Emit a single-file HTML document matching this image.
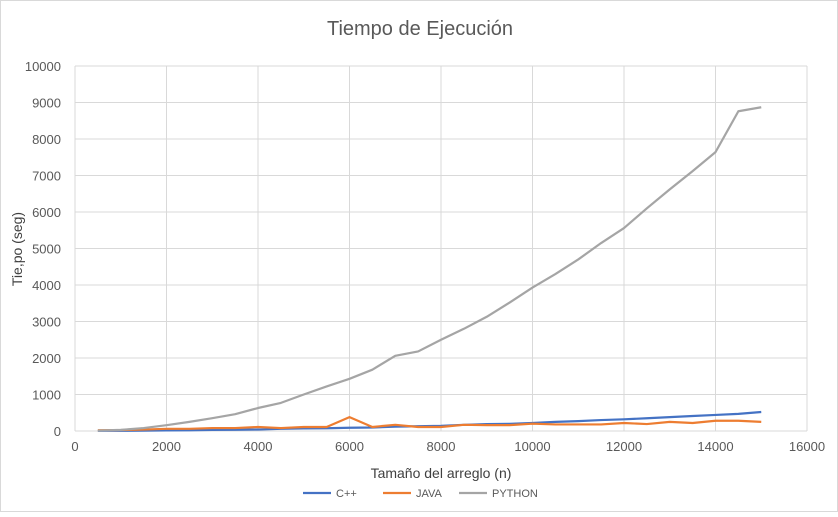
<!DOCTYPE html>
<html><head><meta charset="utf-8"><style>
body{margin:0;background:#fff;font-family:"Liberation Sans",sans-serif}
svg text{font-family:"Liberation Sans",sans-serif}
</style></head><body>
<svg id="c" width="838" height="512">
<rect x="0.5" y="0.5" width="837" height="511" fill="#fff" stroke="#d9d9d9"/>
<text x="420" y="35" text-anchor="middle" font-size="20" fill="#595959">Tiempo de Ejecución</text>
<g id="grid"></g><g id="ticks"></g><g id="series"></g>
<text x="441" y="478" text-anchor="middle" font-size="14" fill="#404040">Tamaño del arreglo (n)</text>
<text transform="translate(22,249) rotate(-90)" text-anchor="middle" font-size="14" fill="#404040">Tie,po (seg)</text>
<g id="legend"></g>
</svg>
<script>
const xs=[500,1000,1500,2000,2500,3000,3500,4000,4500,5000,5500,6000,6500,7000,7500,8000,8500,9000,9500,10000,10500,11000,11500,12000,12500,13000,13500,14000,14500,15000];
const cpp=[5,5,10,15,20,30,35,40,60,70,75,90,95,120,130,140,170,190,195,220,250,270,300,320,350,380,410,440,470,520];
const java=[20,25,40,60,60,80,80,110,80,110,110,380,110,170,110,110,170,160,160,200,180,180,180,220,190,250,220,280,280,250];
const python=[10,30,80,160,250,350,460,630,770,1000,1220,1430,1680,2060,2180,2500,2800,3130,3520,3930,4300,4700,5150,5560,6100,6620,7120,7640,8760,8870];
const xTicks=[0,2000,4000,6000,8000,10000,12000,14000,16000];
const yTicks=[0,1000,2000,3000,4000,5000,6000,7000,8000,9000,10000];
const names=["C++","JAVA","PYTHON"];
const colors=["#4472c4","#ed7d31","#a5a5a5"];
const L=75,R=807,T=66,B=431;
const X=v=>L+(v/16000)*(R-L), Y=v=>B-(v/10000)*(B-T);
const NS="http://www.w3.org/2000/svg";
function mk(t,a,p){const e=document.createElementNS(NS,t);for(const k in a)e.setAttribute(k,a[k]);p.appendChild(e);return e;}
const g=document.getElementById('grid'),tk=document.getElementById('ticks'),sg=document.getElementById('series'),lg=document.getElementById('legend');
yTicks.forEach(v=>{const l=mk('line',{x1:L,x2:R,y1:Y(v),y2:Y(v),stroke:'#d9d9d9'},g);


const t=mk('text',{x:L-14,y:Y(v)+5,'text-anchor':'end','font-size':13,fill:'#595959'},tk);t.textContent=v;

});
xTicks.forEach(v=>{const l=mk('line',{x1:X(v),x2:X(v),y1:T,y2:B,stroke:'#d9d9d9'},g);


const t=mk('text',{x:X(v),y:B+20,'text-anchor':'middle','font-size':13,fill:'#595959'},tk);t.textContent=v;

});
[cpp,java,python].forEach((s,i)=>{const p=mk('polyline',{points:s.map((v,j)=>X(xs[j])+','+Y(v)).join(' '),fill:'none',stroke:colors[i],'stroke-width':2.2,'stroke-linejoin':'round'},sg);

});
const lx=[303,383,459];
names.forEach((n,i)=>{const gg=mk('g',{},lg);


mk('line',{x1:lx[i],x2:lx[i]+28,y1:493,y2:493,stroke:colors[i],'stroke-width':2.2},gg);
const t=mk('text',{x:lx[i]+33,y:497,'font-size':11,fill:'#595959'},gg);t.textContent=n;});
</script>
</body></html>
